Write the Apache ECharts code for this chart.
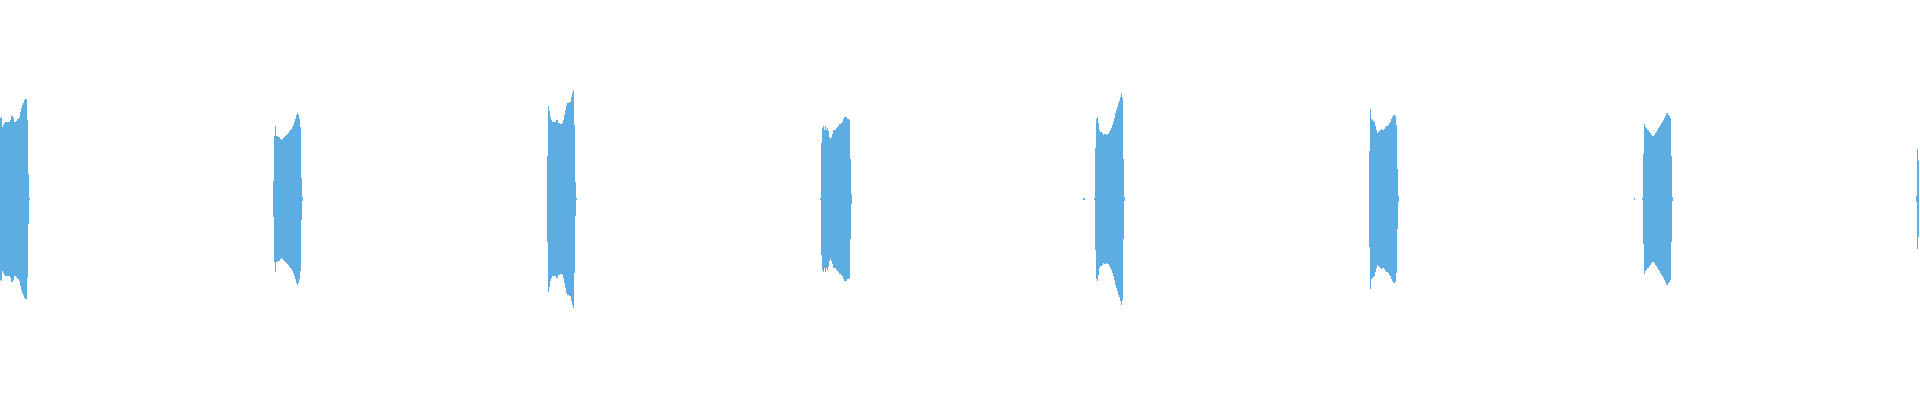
<!DOCTYPE html>
<html>
<head>
<meta charset="utf-8">
<script src="https://cdn.jsdelivr.net/npm/echarts@6/dist/echarts.min.js"></script>
<style>html,body{margin:0;padding:0;background:#fff;}#chart{width:1920px;height:400px;}</style>
</head>
<body>
<div id="chart"></div>
<script>
// sample index where each burst starts
const burstStarts = [0, 273, 547, 820, 1095, 1369, 1643, 1916];
// envelope amplitude of each burst, one value per sample (symmetric around zero)
const burst1 = [81,82,72,74,76,77,77,77,77,77,79,83,83,81,77,77,78,80,80,82,87,91,94,96,99,100,100,79,25,1];
const burst2 = [18,63,73,63,63,62,62,60,59,60,61,62,63,64,65,66,68,69,70,72,74,77,80,84,86,84,80,72,21,2];
const burst3 = [43,93,88,82,79,77,77,77,77,79,79,76,76,75,75,76,79,84,89,94,96,96,97,97,102,106,109,74,17,1];
const burst4 = [1,56,71,73,69,73,69,71,68,62,60,62,65,69,69,69,71,72,73,75,75,76,77,80,82,82,82,80,80,79,40,5];
const burst5 = [51,80,82,76,69,67,67,66,64,65,65,64,65,65,67,69,71,74,77,81,86,89,92,96,98,102,106,101,40,2];
const burst6 = [48,90,80,79,78,77,73,69,66,67,68,69,70,69,69,70,72,73,73,74,76,77,80,82,84,84,83,74,30,3];
const burst7 = [45,75,72,71,69,69,67,66,64,63,63,64,66,67,69,71,72,74,76,77,79,81,83,86,86,84,83,81,43,2];
const burst8 = [3,50,38];
// isolated small samples between bursts: [index, amplitude]
const noise = [[1083,1],[1084,1],[1094,1],[1634,1],[1642,1]];

const sampleCount = 1920;
const categories = Array.from({length: sampleCount}, (_, i) => i);
const bursts = [burst1, burst2, burst3, burst4, burst5, burst6, burst7, burst8];

const upper = new Array(sampleCount).fill('-');
const lower = new Array(sampleCount).fill('-');
bursts.forEach((b, k) => {
  b.forEach((a, j) => {
    const idx = burstStarts[k] + j;
    if (idx < sampleCount) { upper[idx] = a; lower[idx] = -a; }
  });
});
noise.forEach(([idx, a]) => { upper[idx] = a; lower[idx] = -a; });

const chart = echarts.init(document.getElementById('chart'), null, {renderer: 'canvas'});
const color = '#5DADE2';
chart.setOption({
  animation: false,
  grid: {left: 0, right: 0, top: 0, height: 398, containLabel: false},
  xAxis: {type: 'category', data: categories, show: false, boundaryGap: true},
  yAxis: {type: 'value', min: -199, max: 199, show: false},
  series: [
    {type: 'bar', data: upper, barWidth: '100%', barGap: '-100%', itemStyle: {color: color}, silent: true},
    {type: 'bar', data: lower, barWidth: '100%', barGap: '-100%', itemStyle: {color: color}, silent: true}
  ]
});
</script>
</body>
</html>
